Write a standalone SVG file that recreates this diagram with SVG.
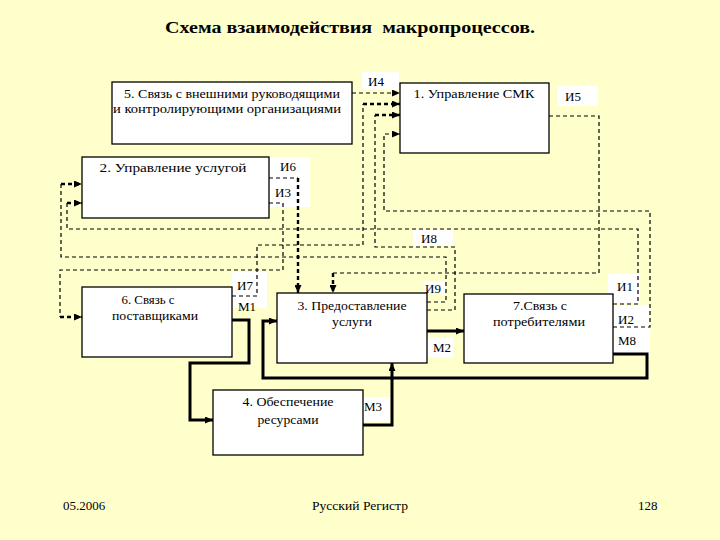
<svg xmlns="http://www.w3.org/2000/svg" width="720" height="540" viewBox="0 0 720 540">
<defs>
<style>
.bg{fill:#FFFFCC}
.box{fill:#FFFFFF;stroke:#000;stroke-width:1.3}
.lbg{fill:#FFFFFF;stroke:none}
.t{font-family:"Liberation Serif","Times New Roman",serif;font-size:13px;fill:#000}
.c{text-anchor:middle}
.title{font-family:"Liberation Serif","Times New Roman",serif;font-size:17px;font-weight:bold;fill:#000}
.dt{fill:none;stroke:#000;stroke-width:1.2;stroke-dasharray:4,3}
.dk{fill:none;stroke:#000;stroke-width:2.4;stroke-dasharray:4,3}
.sk{fill:none;stroke:#000;stroke-width:3}
</style>
<marker id="ah" viewBox="0 0 8 7" refX="8" refY="3.5" markerWidth="8" markerHeight="7" markerUnits="userSpaceOnUse" orient="auto">
<path d="M0,0 L8,3.5 L0,7 z" fill="#000"/>
</marker>
</defs>
<rect class="bg" x="0" y="0" width="720" height="540"/>
<text class="title" x="165" y="33" textLength="370" lengthAdjust="spacingAndGlyphs" xml:space="preserve">Схема взаимодействия  макропроцессов.</text>

<g id="label-bg">
<rect class="lbg" x="362" y="72" width="37" height="18"/>
<rect class="lbg" x="557" y="86" width="41" height="20"/>
<rect class="lbg" x="270" y="157" width="40" height="50"/>
<rect class="lbg" x="232" y="272" width="35" height="36"/>
<rect class="lbg" x="413" y="230" width="40" height="16"/>
<rect class="lbg" x="424" y="281" width="21" height="12"/>
<rect class="lbg" x="427" y="338" width="26" height="19"/>
<rect class="lbg" x="608" y="274" width="32" height="29"/>
<rect class="lbg" x="613" y="305" width="37" height="50"/>
<rect class="lbg" x="363" y="397" width="27" height="25"/>
</g>

<g id="connectors">
<!-- И4 -->
<path class="dt" d="M352,93 L400,93" marker-end="url(#ah)"/>
<!-- И7 -->
<path class="dt" d="M232,296 L257,296 L257,245 L363,245 L363,104"/>
<path class="dk" d="M363,104 L400,104" marker-end="url(#ah)"/>
<!-- И8 -->
<path class="dt" d="M427,310 L455,310 L455,247 L375,247 L375,115"/>
<path class="dk" d="M375,115 L400,115" marker-end="url(#ah)"/>
<!-- И2 -->
<path class="dt" d="M613,327 L650,327 L650,211 L384,211 L384,134 L400,134" marker-end="url(#ah)"/>
<!-- И5 -->
<path class="dt" d="M549,116 L599,116 L599,273 L333,273"/>
<path class="dk" d="M333,273 L333,293" marker-end="url(#ah)"/>
<!-- И6 -->
<path class="dt" d="M269,178 L298,178"/>
<path class="dk" d="M298,178 L298,293" marker-end="url(#ah)"/>
<!-- И3 -->
<path class="dt" d="M269,203 L283,203 L283,270 L60,270 L60,317"/>
<path class="dk" d="M60,317 L82,317" marker-end="url(#ah)"/>
<!-- И1 -->
<path class="dt" d="M613,304 L638,304 L638,229 L67,229 L67,203"/>
<path class="dk" d="M67,203 L82,203" marker-end="url(#ah)"/>
<!-- И9 -->
<path class="dt" d="M427,302 L446,302 L446,257 L61,257 L61,184"/>
<path class="dk" d="M61,184 L82,184" marker-end="url(#ah)"/>
<!-- М1 -->
<path class="sk" d="M232,320 L249,320 L249,363 L190,363 L190,420 L213,420" marker-end="url(#ah)"/>
<!-- М2 -->
<path class="sk" d="M427,331 L464,331" marker-end="url(#ah)"/>
<!-- М8 -->
<path class="sk" d="M613,354 L647,354 L647,378 L263,378 L263,321 L277,321" marker-end="url(#ah)"/>
<!-- М3 -->
<path class="sk" d="M363,425 L392,425 L392,363" marker-end="url(#ah)"/>
</g>

<g id="node5">
<rect class="box" x="112" y="82" width="240" height="62"/>
<text class="t c" x="232" y="98" textLength="216" lengthAdjust="spacingAndGlyphs">5. Связь с внешними руководящими</text>
<text class="t c" x="227" y="113" textLength="228" lengthAdjust="spacingAndGlyphs">и контролирующими организациями</text>
</g>
<g id="node1">
<rect class="box" x="400" y="83" width="149" height="70"/>
<text class="t c" x="474" y="98" textLength="121" lengthAdjust="spacingAndGlyphs">1. Управление СМК</text>
</g>
<g id="node2">
<rect class="box" x="82" y="157" width="187" height="61"/>
<text class="t c" x="173" y="172" textLength="147" lengthAdjust="spacingAndGlyphs">2. Управление услугой</text>
</g>
<g id="node6">
<rect class="box" x="82" y="287" width="150" height="70"/>
<text class="t c" x="148" y="304" textLength="53" lengthAdjust="spacingAndGlyphs">6. Связь с</text>
<text class="t c" x="155" y="320" textLength="86" lengthAdjust="spacingAndGlyphs">поставщиками</text>
</g>
<g id="node3">
<rect class="box" x="277" y="293" width="150" height="70"/>
<text class="t c" x="352" y="310" textLength="109" lengthAdjust="spacingAndGlyphs">3. Предоставление</text>
<text class="t c" x="352" y="326" textLength="40" lengthAdjust="spacingAndGlyphs">услуги</text>
</g>
<g id="node7">
<rect class="box" x="464" y="294" width="149" height="69"/>
<text class="t c" x="540" y="310" textLength="54" lengthAdjust="spacingAndGlyphs">7.Связь с</text>
<text class="t c" x="539" y="326" textLength="92" lengthAdjust="spacingAndGlyphs">потребителями</text>
</g>
<g id="node4">
<rect class="box" x="213" y="390" width="150" height="65"/>
<text class="t c" x="288" y="406" textLength="91" lengthAdjust="spacingAndGlyphs">4. Обеспечение</text>
<text class="t c" x="288" y="424" textLength="61" lengthAdjust="spacingAndGlyphs">ресурсами</text>
</g>

<g id="labels">
<text class="t" x="368" y="86">И4</text>
<text class="t" x="565" y="101">И5</text>
<text class="t" x="280" y="171">И6</text>
<text class="t" x="275" y="197">И3</text>
<text class="t" x="237" y="290">И7</text>
<text class="t" x="238" y="311">М1</text>
<text class="t" x="421" y="243">И8</text>
<text class="t" x="425" y="293">И9</text>
<text class="t" x="433" y="352">М2</text>
<text class="t" x="617" y="291">И1</text>
<text class="t" x="618" y="324">И2</text>
<text class="t" x="618" y="345">М8</text>
<text class="t" x="364" y="411">М3</text>
</g>

<g id="footer">
<text class="t" x="63" y="510">05.2006</text>
<text class="t" x="312" y="510" textLength="96" lengthAdjust="spacingAndGlyphs">Русский Регистр</text>
<text class="t" x="638" y="510">128</text>
</g>
</svg>
